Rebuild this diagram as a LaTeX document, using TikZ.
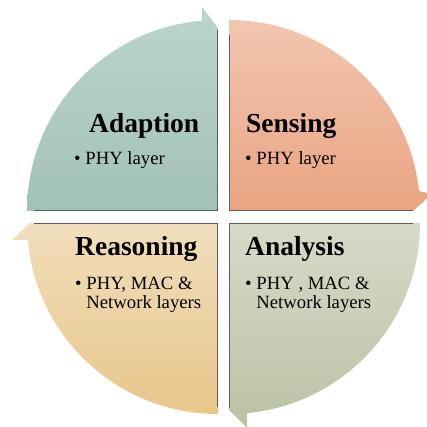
\documentclass[tikz,border=0pt]{standalone}
\usepackage{fontspec}
\setmainfont{Liberation Serif}
\definecolor{tlTop}{HTML}{BBD4CE}
\definecolor{tlBot}{HTML}{A2C1B9}
\definecolor{trTop}{HTML}{F2C6B0}
\definecolor{trBot}{HTML}{E9A482}
\definecolor{blTop}{HTML}{F1DEBB}
\definecolor{blBot}{HTML}{E8C68B}
\definecolor{brTop}{HTML}{D6DAC8}
\definecolor{brBot}{HTML}{BAC2A5}
\definecolor{edgeC}{HTML}{5E5E5E}
\tikzset{
  titletext/.style={inner sep=0pt, anchor=base west, font=\fontsize{27.5}{30}\selectfont\bfseries},
  itemtext/.style={inner sep=0pt, anchor=base west, font=\fontsize{18.7}{17}\selectfont},
  inneredge/.style={draw=edgeC, line width=1.1pt},
}
\begin{document}
\begin{tikzpicture}[x=1pt,y=1pt]
\useasboundingbox (0,0) rectangle (427,427);
\fill[white] (0,0) rectangle (427,427);
% top-left (Adaption)
\shade[top color=tlTop, bottom color=tlBot]
  (218,216) -- (27,216) arc[start angle=180, end angle=94.8, radius=191]
  -- (202,420) -- (218,399) -- cycle;
% top-right (Sensing)
\shade[top color=trTop, bottom color=trBot]
  (229,216) -- (229,407) arc[start angle=90, end angle=6.0, radius=191]
  -- (432,233) -- (413,216) -- cycle;
% bottom-left (Reasoning)
\shade[top color=blTop, bottom color=blBot]
  (218,204) -- (218,13) arc[start angle=270, end angle=185.1, radius=191]
  -- (12,187) -- (30,204) -- cycle;
% bottom-right (Analysis)
\shade[top color=brTop, bottom color=brBot]
  (229,204) -- (420,204) arc[start angle=0, end angle=-84.6, radius=191]
  -- (247,-1) -- (229,17) -- cycle;
% inner edges
\draw[inneredge] (217.6,397) -- (217.6,216.4) -- (34,216.4);
\draw[inneredge] (229.4,392) -- (229.4,216.4) -- (413,216.4);
\draw[inneredge] (34,203.6) -- (217.6,203.6) -- (217.6,20);
\draw[inneredge] (413,203.6) -- (229.4,203.6) -- (229.4,19);
% texts
\node[titletext] (tA) at (89,294) {Adaption};
\node[itemtext]  (iA) at (74,262) {•\ PHY layer};
\node[titletext] (tS) at (246,294) {Sensing};
\node[itemtext]  (iS) at (245,262) {•\ PHY layer};
\node[titletext] (tR) at (75,171) {Reasoning};
\node[itemtext]  (iR) at (75,137) {•\ \begin{tabular}[t]{@{}l@{}}PHY, MAC \&\\Network layers\end{tabular}};
\node[titletext] (tN) at (245,171) {Analysis};
\node[itemtext]  (iN) at (245,137) {•\ \begin{tabular}[t]{@{}l@{}}PHY , MAC \&\\Network layers\end{tabular}};
\end{tikzpicture}
\end{document}
